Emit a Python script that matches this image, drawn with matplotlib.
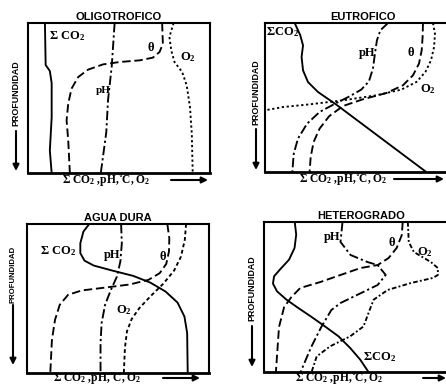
import matplotlib.pyplot as plt
from matplotlib.patches import FancyArrowPatch

plt.rcParams['mathtext.default'] = 'regular'

W, H = 446, 387
SERIF = ['Liberation Serif', 'DejaVu Serif']
SANS = ['Liberation Sans', 'DejaVu Sans']

# relative value (0 = left edge of box) against relative depth (0 = surface)
# --- oligotrofico
oli_co2_x = [0.093, 0.097, 0.12, 0.13, 0.13, 0.12, 0.13]
oli_co2_z = [0.0, 0.28, 0.32, 0.40, 0.63, 0.85, 1.0]
oli_ph_x = [0.476, 0.46, 0.44, 0.43, 0.40]
oli_ph_z = [0.0, 0.29, 0.51, 0.73, 1.0]
oli_t_x = [0.737, 0.741, 0.723, 0.686, 0.613, 0.504, 0.412, 0.330, 0.276,
           0.239, 0.221, 0.212, 0.221, 0.230]
oli_t_z = [0.0, 0.138, 0.193, 0.231, 0.249, 0.26, 0.276, 0.311, 0.36,
           0.438, 0.538, 0.649, 0.782, 1.0]
oli_o2_x = [0.80, 0.777, 0.787, 0.805, 0.847, 0.872, 0.89, 0.90, 0.905]
oli_o2_z = [0.0, 0.093, 0.182, 0.26, 0.327, 0.416, 0.56, 0.738, 1.0]

# --- eutrofico
eut_co2_x = [0.163, 0.194, 0.209, 0.201, 0.209, 0.236, 0.291, 0.392, 0.886]
eut_co2_z = [0.0, 0.083, 0.15, 0.228, 0.318, 0.396, 0.463, 0.548, 1.0]
eut_ph_x = [0.676, 0.634, 0.615, 0.604, 0.593, 0.571, 0.529, 0.465, 0.392,
            0.30, 0.231, 0.181, 0.158, 0.15]
eut_ph_z = [0.0, 0.049, 0.116, 0.206, 0.306, 0.392, 0.447, 0.492, 0.537,
            0.597, 0.676, 0.776, 0.877, 1.0]
eut_t_x = [0.868, 0.866, 0.861, 0.846, 0.813, 0.758, 0.667, 0.538, 0.429,
           0.352, 0.30, 0.267, 0.251, 0.245]
eut_t_z = [0.0, 0.094, 0.183, 0.273, 0.351, 0.418, 0.47, 0.512, 0.557,
           0.626, 0.709, 0.799, 0.899, 1.0]
eut_o2_x = [0.923, 0.934, 0.929, 0.912, 0.881, 0.832, 0.749, 0.612, 0.429,
            0.245, 0.099, 0.0]
eut_o2_z = [0.0, 0.072, 0.161, 0.251, 0.329, 0.396, 0.447, 0.485, 0.519,
            0.546, 0.564, 0.586]

# --- agua dura
dur_co2_x = [0.342, 0.31, 0.293, 0.293, 0.316, 0.367, 0.47, 0.583, 0.677,
             0.761, 0.827, 0.865, 0.88, 0.883]
dur_co2_z = [0.0, 0.051, 0.129, 0.196, 0.246, 0.279, 0.313, 0.348, 0.393,
             0.453, 0.527, 0.621, 0.732, 1.0]
dur_ph_x = [0.517, 0.521, 0.513, 0.494, 0.461, 0.429, 0.41, 0.404, 0.404]
dur_ph_z = [0.0, 0.129, 0.252, 0.353, 0.442, 0.542, 0.665, 0.799, 1.0]
dur_t_x = [0.771, 0.782, 0.78, 0.765, 0.729, 0.667, 0.564, 0.414, 0.301,
           0.226, 0.18, 0.154, 0.137, 0.128]
dur_t_z = [0.0, 0.096, 0.185, 0.268, 0.33, 0.375, 0.406, 0.429, 0.446,
           0.475, 0.542, 0.643, 0.777, 1.0]
dur_o2_x = [0.874, 0.867, 0.846, 0.808, 0.748, 0.677, 0.617, 0.575, 0.549,
            0.538, 0.532]
dur_o2_z = [0.0, 0.107, 0.219, 0.313, 0.402, 0.487, 0.565, 0.638, 0.721,
            0.833, 1.0]

# --- heterogrado
het_co2_x = [0.168, 0.176, 0.167, 0.137, 0.09, 0.055, 0.049, 0.071, 0.123,
             0.187, 0.26, 0.333, 0.407, 0.471, 0.526, 0.571]
het_co2_z = [0.0, 0.084, 0.173, 0.251, 0.313, 0.362, 0.411, 0.462, 0.518,
             0.573, 0.633, 0.696, 0.762, 0.84, 0.918, 1.0]
het_ph_x = [0.429, 0.418, 0.473, 0.566, 0.621, 0.665, 0.621, 0.418, 0.368,
            0.313, 0.258, 0.2]
het_ph_z = [0.0, 0.133, 0.22, 0.267, 0.287, 0.353, 0.42, 0.54, 0.587,
            0.70, 0.833, 1.0]
het_t_x = [0.758, 0.753, 0.725, 0.681, 0.621, 0.527, 0.308, 0.198, 0.15,
           0.11, 0.082, 0.065]
het_t_z = [0.0, 0.087, 0.173, 0.24, 0.287, 0.307, 0.40, 0.44, 0.50,
           0.567, 0.70, 1.0]
het_o2_x = [0.786, 0.791, 0.819, 0.912, 0.95, 0.95, 0.923, 0.802, 0.676,
            0.599, 0.571, 0.544, 0.471, 0.361, 0.288, 0.26]
het_o2_z = [0.0, 0.133, 0.20, 0.267, 0.307, 0.353, 0.373, 0.407, 0.453,
            0.518, 0.607, 0.696, 0.762, 0.829, 0.896, 1.0]

SOLID = '-'
DASHDOT = (0, (5, 1.6, 1.2, 1.6))
DASHED = (0, (4.5, 2))
DOTTED = (0, (1.2, 1.4))

fig = plt.figure(figsize=(W / 100, H / 100), dpi=100)


def px(x, y):
    return x / W, 1 - y / H


def panel(l, t, r, b, title, title_x, open_right=False):
    ax = fig.add_axes([l / W, 1 - b / H, (r - l) / W, (b - t) / H])
    ax.set_xlim(0, 1)
    ax.set_ylim(1, 0)
    ax.set_xticks([])
    ax.set_yticks([])
    for s in ax.spines.values():
        s.set_linewidth(1.5)
    ax.spines['bottom'].set_linewidth(2.0)
    if open_right:
        ax.spines['right'].set_visible(False)
    ax.text(title_x, 1.008, title, transform=ax.transAxes, ha='center',
            va='bottom', fontsize=8, fontweight='bold', family=SANS)
    return ax


def depth_axis(x, y_top, y_bot, arrow_top, arrow_bot, size=6.4):
    fx, fy = px(x, (y_top + y_bot) / 2)
    fig.text(fx, fy, 'PROFUNDIDAD', rotation=90, ha='center', va='center',
             fontsize=size, fontweight='bold', family=SANS)
    fig.add_artist(FancyArrowPatch(
        px(x, arrow_top), px(x, arrow_bot), transform=fig.transFigure,
        arrowstyle='-|>', mutation_scale=9, lw=1.5, color='black',
        shrinkA=0, shrinkB=0))


def value_axis(x0, y, x_arrow0, x_arrow1):
    fx, fy = px(x0, y)
    fig.text(fx, fy, r'$\Sigma$ CO$_2$ ,pH,˚C, O$_2$', ha='left',
             va='center', fontsize=8.3, fontweight='bold', family=SERIF)
    fig.add_artist(FancyArrowPatch(
        px(x_arrow0, y), px(x_arrow1, y), transform=fig.transFigure,
        arrowstyle='-|>', mutation_scale=9, lw=1.5, color='black',
        shrinkA=0, shrinkB=0))


def curves(ax, sets):
    for xs, zs, ls in sets:
        ax.plot(xs, zs, color='black', lw=1.35, linestyle=ls,
                solid_capstyle='butt')


def label(ax, x, z, s, size=9):
    ax.text(x, z, s, ha='center', va='center', fontsize=size,
            fontweight='bold', family=SERIF)


# OLIGOTROFICO
ax1 = panel(28, 23, 210, 173, 'OLIGOTROFICO', 0.5)
curves(ax1, [(oli_co2_x, oli_co2_z, SOLID), (oli_ph_x, oli_ph_z, DASHDOT),
             (oli_t_x, oli_t_z, DASHED), (oli_o2_x, oli_o2_z, DOTTED)])
label(ax1, 0.215, 0.09, r'$\Sigma$ CO$_2$')
label(ax1, 0.675, 0.165, 'θ')
label(ax1, 0.88, 0.225, 'O$_2$')
label(ax1, 0.415, 0.45, 'pH', 8)
depth_axis(16, 59, 127, 131, 171)
value_axis(62, 180, 171, 208)

# EUTROFICO
ax2 = panel(265, 23, 447, 172, 'EUTROFICO', 0.54, open_right=True)
curves(ax2, [(eut_co2_x, eut_co2_z, SOLID), (eut_ph_x, eut_ph_z, DASHDOT),
             (eut_t_x, eut_t_z, DASHED), (eut_o2_x, eut_o2_z, DOTTED)])
label(ax2, 0.095, 0.06, r'$\Sigma$CO$_2$')
label(ax2, 0.56, 0.2, 'pH')
label(ax2, 0.80, 0.2, 'θ')
label(ax2, 0.895, 0.445, 'O$_2$')
depth_axis(256, 59, 125, 129, 170)
value_axis(299, 179, 394, 444)

# AGUA DURA
ax3 = panel(27, 224, 209, 373, 'AGUA DURA', 0.5)
curves(ax3, [(dur_co2_x, dur_co2_z, SOLID), (dur_ph_x, dur_ph_z, DASHDOT),
             (dur_t_x, dur_t_z, DASHED), (dur_o2_x, dur_o2_z, (0, (2, 1.5)))])
label(ax3, 0.17, 0.18, r'$\Sigma$ CO$_2$')
label(ax3, 0.47, 0.21, 'pH')
label(ax3, 0.745, 0.22, 'θ')
label(ax3, 0.53, 0.58, 'O$_2$')
depth_axis(13, 248, 300, 305, 365, size=5.6)
value_axis(53, 378, 163, 200)

# HETEROGRADO
ax4 = panel(264, 222, 447, 372, 'HETEROGRADO', 0.53, open_right=True)
curves(ax4, [(het_co2_x, het_co2_z, SOLID), (het_ph_x, het_ph_z, DASHDOT),
             (het_t_x, het_t_z, DASHED),
             (het_o2_x, het_o2_z, (0, (2.5, 1.2, 1, 1.2)))])
label(ax4, 0.37, 0.1, 'pH')
label(ax4, 0.70, 0.14, 'θ')
label(ax4, 0.88, 0.2, 'O$_2$')
label(ax4, 0.63, 0.9, r'$\Sigma$CO$_2$')
depth_axis(252, 255, 321, 326, 367)
value_axis(295, 378, 423, 446)

fig.savefig('out.png', dpi=100)
